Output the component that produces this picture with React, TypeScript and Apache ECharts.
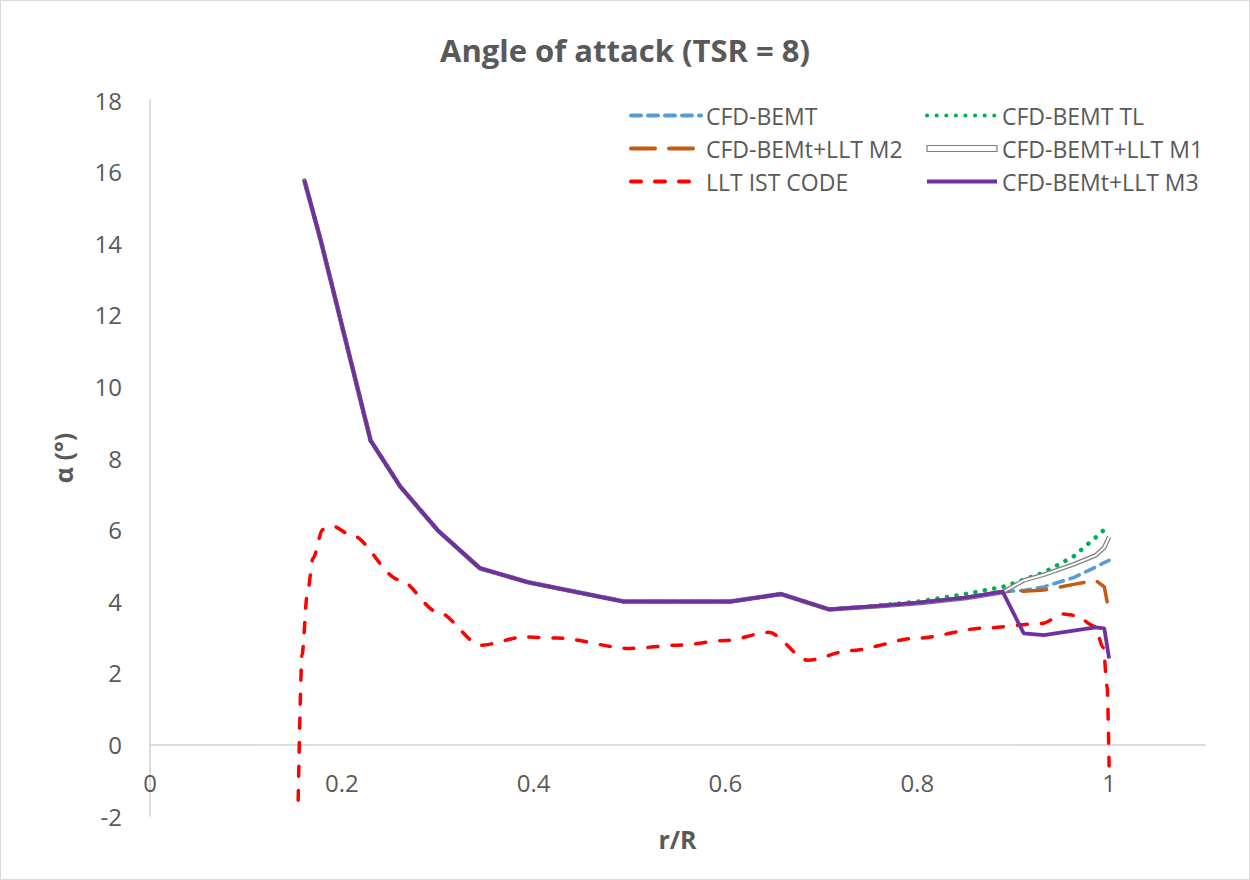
import React, { useEffect, useRef } from "react";
import * as echarts from "echarts";

// Radial positions of the CFD-based results
const xCFD = [0.161, 0.178, 0.23, 0.261, 0.3, 0.344, 0.394, 0.494, 0.605, 0.658, 0.708, 0.76, 0.804, 0.85, 0.889, 0.911, 0.932, 0.963, 0.986, 0.995, 1.0];
const cfdBemt = [15.75, 14.08, 8.49, 7.2, 5.98, 4.92, 4.53, 3.99, 3.99, 4.2, 3.77, 3.87, 3.97, 4.1, 4.27, 4.3, 4.4, 4.66, 4.95, 5.08, 5.14];
const cfdBemtTL = [15.75, 14.08, 8.49, 7.2, 5.98, 4.92, 4.53, 3.99, 3.99, 4.2, 3.77, 3.88, 4.0, 4.2, 4.4, 4.6, 4.8, 5.25, 5.78, 6.0, 6.12];
const cfdM2 = [15.75, 14.08, 8.49, 7.2, 5.98, 4.92, 4.53, 3.99, 3.99, 4.2, 3.77, 3.87, 3.97, 4.1, 4.27, 4.28, 4.31, 4.47, 4.58, 4.4, 3.7];
const cfdM1 = [15.75, 14.08, 8.49, 7.2, 5.98, 4.92, 4.53, 3.99, 3.99, 4.2, 3.77, 3.86, 3.95, 4.08, 4.25, 4.58, 4.74, 5.03, 5.28, 5.5, 5.8];
const cfdM3 = [15.75, 14.08, 8.49, 7.2, 5.98, 4.92, 4.53, 3.99, 3.99, 4.2, 3.77, 3.87, 3.97, 4.1, 4.27, 3.1, 3.05, 3.18, 3.27, 3.24, 2.4];

// LLT IST code
const xLLT = [0.1545, 0.1585, 0.164, 0.17, 0.18, 0.19, 0.21, 0.26, 0.3, 0.345, 0.39, 0.425, 0.5, 0.55, 0.6, 0.645, 0.686, 0.73, 0.8, 0.87, 0.93, 0.952, 0.965, 0.985, 0.994, 0.998, 1.0];
const lltIst = [-1.56, 2.5, 4.2, 5.2, 6.0, 6.1, 5.85, 4.6, 3.7, 2.77, 3.0, 2.97, 2.68, 2.77, 2.9, 3.13, 2.35, 2.62, 2.97, 3.25, 3.38, 3.64, 3.6, 3.3, 2.7, 1.6, -0.6];

const xAxisRange = [0, 1.1, 0.2];
const yAxisRange = [-2, 18, 2];

const FONT = "'Open Sans', sans-serif";
const TXT = "#595959";

const pairs = (xs: number[], ys: number[]) => xs.map((x, i) => [x, ys[i]]);

export default function App() {
  const ref = useRef<HTMLDivElement>(null);
  useEffect(() => {
    document.body.style.margin = "0";
    if (!ref.current) return;
    const chart = echarts.init(ref.current, undefined, { renderer: "svg" });
    const legendBase = {
      orient: "vertical",
      itemWidth: 70,
      itemHeight: 14,
      itemGap: 10,
      textStyle: { fontFamily: FONT, fontSize: 23, color: TXT },
      itemStyle: { opacity: 0 },
      lineStyle: { width: 4 },
    };
    const fmt = (v: number) => String(parseFloat(v.toFixed(2)));
    const option: any = {
      animation: false,
      backgroundColor: "#ffffff",
      title: {
        text: "Angle of attack (TSR = 8)",
        left: "center",
        top: 29,
        textStyle: { fontFamily: FONT, fontSize: 31, fontWeight: "bold", color: TXT },
      },
      graphic: [
        {
          type: "rect",
          shape: { x: 0.5, y: 0.5, width: 1249, height: 879 },
          style: { fill: "none", stroke: "#d9d9d9", lineWidth: 1 },
          silent: true,
        },
      ],
      grid: { left: 150, right: 45, top: 100, bottom: 64, outerBoundsMode: "none", containLabel: false },
      xAxis: {
        type: "value",
        min: xAxisRange[0],
        max: xAxisRange[1],
        interval: xAxisRange[2],
        name: "r/R",
        nameLocation: "middle",
        nameGap: 10,
        nameTextStyle: { fontFamily: FONT, fontSize: 25, fontWeight: "bold", color: TXT },
        axisLine: { onZero: true, lineStyle: { color: "#d0d0d0", width: 1.5 } },
        axisTick: { show: false },
        splitLine: { show: false },
        axisLabel: {
          margin: -46,
          fontFamily: FONT,
          fontSize: 24,
          color: TXT,
          showMaxLabel: false,
          formatter: fmt,
        },
      },
      yAxis: {
        type: "value",
        min: yAxisRange[0],
        max: yAxisRange[1],
        interval: yAxisRange[2],
        name: "α (°)",
        nameLocation: "middle",
        nameGap: 75,
        nameTextStyle: { fontFamily: FONT, fontSize: 25, fontWeight: "bold", color: TXT },
        axisLine: { show: true, onZero: false, lineStyle: { color: "#d0d0d0", width: 1.5 } },
        axisTick: { show: false },
        splitLine: { show: false },
        axisLabel: { margin: 28, fontFamily: FONT, fontSize: 24, color: TXT, formatter: fmt },
      },
      legend: [
        { ...legendBase, left: 624, top: 99, data: ["CFD-BEMT", "CFD-BEMt+LLT M2", "LLT IST CODE"] },
        {
          ...legendBase,
          left: 920,
          top: 99,
          data: [
            "CFD-BEMT TL",
            {
              name: "CFD-BEMT+LLT M1",
              icon: "path://M0,0H70V6H0Z",
              itemStyle: { color: "#ffffff", borderColor: "#7f7f7f", borderWidth: 1.2, opacity: 1 },
            },
            "CFD-BEMt+LLT M3",
          ],
        },
      ],
      series: [
        {
          name: "CFD-BEMT",
          type: "line",
          symbol: "none",
          data: pairs(xCFD, cfdBemt),
          lineStyle: { color: "#5B9BD5", width: 3.5, type: [10, 7], cap: "round" },
          itemStyle: { color: "#5B9BD5" },
        },
        {
          name: "CFD-BEMT TL",
          type: "line",
          symbol: "none",
          data: pairs(xCFD, cfdBemtTL),
          lineStyle: { color: "#00B050", width: 4.5, type: [0.1, 9.5], cap: "round" },
          itemStyle: { color: "#00B050" },
        },
        {
          name: "CFD-BEMt+LLT M2",
          type: "line",
          symbol: "none",
          data: pairs(xCFD, cfdM2),
          lineStyle: { color: "#C55A11", width: 3.5, type: [24, 14], cap: "round" },
          itemStyle: { color: "#C55A11" },
        },
        {
          name: "CFD-BEMT+LLT M1",
          type: "line",
          symbol: "none",
          data: pairs(xCFD, cfdM1),
          lineStyle: { color: "#7f7f7f", width: 4.5 },
          itemStyle: { color: "#7f7f7f" },
        },
        {
          name: "CFD-BEMT+LLT M1 (inner)",
          type: "line",
          symbol: "none",
          silent: true,
          data: pairs(xCFD, cfdM1),
          lineStyle: { color: "#ffffff", width: 2 },
        },
        {
          name: "LLT IST CODE",
          type: "line",
          symbol: "none",
          smooth: 0.3,
          smoothMonotone: "x",
          data: pairs(xLLT, lltIst),
          lineStyle: { color: "#FF0000", width: 3.5, type: [10, 14], cap: "round" },
          itemStyle: { color: "#FF0000" },
        },
        {
          name: "CFD-BEMt+LLT M3",
          type: "line",
          symbol: "none",
          data: pairs(xCFD, cfdM3),
          lineStyle: { color: "#7030A0", width: 3.75 },
          itemStyle: { color: "#7030A0" },
        },
      ],
    };
    chart.setOption(option);
    return () => chart.dispose();
  }, []);
  return <div ref={ref} style={{ width: 1250, height: 880 }} />;
}
